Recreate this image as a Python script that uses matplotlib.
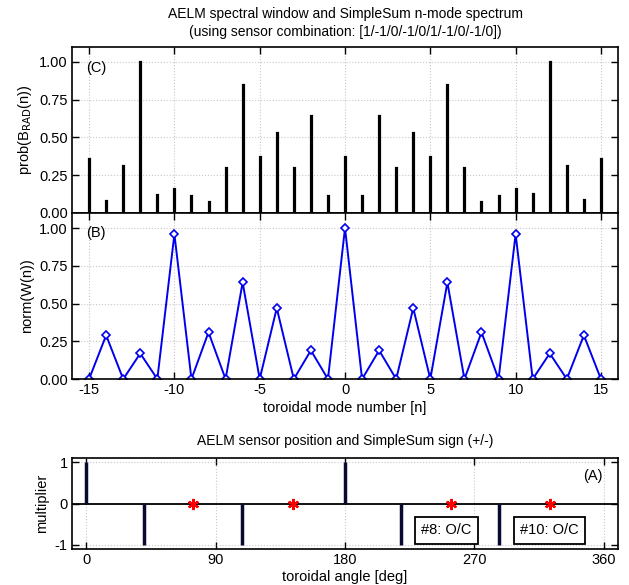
import matplotlib.pyplot as plt
import numpy as np

plt.rcParams['font.family'] = ['Liberation Sans', 'DejaVu Sans']
plt.rcParams['font.size'] = 10.5
plt.rcParams['axes.unicode_minus'] = False

# toroidal mode numbers
n = np.arange(-15, 16)

# (C) prob(B_RAD(n))
prob = [0.36, 0.08, 0.31, 1.00, 0.12, 0.16, 0.115, 0.07, 0.295, 0.85, 0.37,
        0.53, 0.30, 0.64, 0.115, 0.37, 0.115, 0.64, 0.30, 0.53, 0.37, 0.85,
        0.295, 0.07, 0.115, 0.16, 0.125, 1.00, 0.31, 0.085, 0.36]

# (B) norm(W(n))
norm_w = [0, 0.29, 0, 0.17, 0, 0.96, 0, 0.31, 0, 0.64, 0, 0.47, 0, 0.19, 0,
          1.00, 0, 0.19, 0, 0.47, 0, 0.64, 0, 0.31, 0, 0.96, 0, 0.17, 0, 0.29, 0]

# (A) sensor angles and multipliers
angles = [0, 40, 74, 108, 144, 180, 219, 254, 287, 323]
mult = [1, -1, 0, -1, 0, 1, -1, 0, -1, 0]
oc_labels = {254: '#8: O/C', 323: '#10: O/C'}

fig = plt.figure(figsize=(6.29, 5.85), dpi=100)
ax_c = fig.add_axes([0.1145, 0.636, 0.868, 0.284])
ax_b = fig.add_axes([0.1145, 0.352, 0.868, 0.284])
ax_a = fig.add_axes([0.1145, 0.0615, 0.868, 0.1556])


def style(ax):
    ax.tick_params(direction='in', top=True, right=True, length=5, width=1,
                   pad=3)
    ax.grid(True, color='#c8c8c8', linestyle=':', linewidth=0.8)
    ax.set_axisbelow(True)
    for s in ax.spines.values():
        s.set_linewidth(1.2)


# top panel
ax_c.vlines(n, 0, prob, color='black', linewidth=2.3, capstyle='projecting',
            clip_on=False, zorder=3)
ax_c.set_xlim(-16, 16)
ax_c.set_ylim(0, 1.1)
ax_c.set_xticks(np.arange(-15, 16, 5))
ax_c.set_xticklabels([])
ax_c.set_yticks([0, 0.25, 0.5, 0.75, 1.0])
ax_c.set_yticklabels(['0.00', '0.25', '0.50', '0.75', '1.00'])
ax_c.set_ylabel('prob(B$_{\\mathrm{RAD}}$(n))')
ax_c.text(-15.2, 0.96, '(C)', va='center')
ax_c.set_title('AELM spectral window and SimpleSum n-mode spectrum\n'
               '(using sensor combination: [1/-1/0/-1/0/1/-1/0/-1/0])',
               fontsize=10, pad=8, linespacing=1.35)
style(ax_c)

# middle panel
ax_b.plot(n, norm_w, color='#0000ee', linewidth=1.4, marker='D',
          markersize=4.5, markerfacecolor='white', markeredgewidth=1.2)
ax_b.set_xlim(-16, 16)
ax_b.set_ylim(0, 1.1)
ax_b.set_xticks(np.arange(-15, 16, 5))
ax_b.set_yticks([0, 0.25, 0.5, 0.75, 1.0])
ax_b.set_yticklabels(['0.00', '0.25', '0.50', '0.75', '1.00'])
ax_b.set_ylabel('norm(W(n))')
ax_b.set_xlabel('toroidal mode number [n]', labelpad=3)
ax_b.text(-15.2, 0.97, '(B)', va='center')
style(ax_b)

# bottom panel
ax_a.axhline(0, color='black', linewidth=1.3)
for a, m in zip(angles, mult):
    if m != 0:
        ax_a.vlines(a, 0, m, color='#0a0a30', linewidth=2.5)
    else:
        ax_a.plot(a, 0, marker=(6, 2, 0), color='red', markersize=8,
                  markeredgewidth=1.6, linestyle='none', zorder=4)
for a, lab in oc_labels.items():
    ax_a.text(a - 21, -0.65, lab, va='center', ha='left',
              bbox=dict(boxstyle='square,pad=0.45', facecolor='white',
                        edgecolor='black', linewidth=1.3))
ax_a.text(346, 0.66, '(A)', va='center')
ax_a.set_xlim(-10, 370)
ax_a.set_ylim(-1.1, 1.1)
ax_a.set_xticks([0, 90, 180, 270, 360])
ax_a.set_yticks([-1, 0, 1])
ax_a.set_ylabel('multiplier')
ax_a.set_xlabel('toroidal angle [deg]', labelpad=2)
ax_a.set_title('AELM sensor position and SimpleSum sign (+/-)', fontsize=10,
               pad=9)
style(ax_a)

fig.savefig('out.png', dpi=100)
